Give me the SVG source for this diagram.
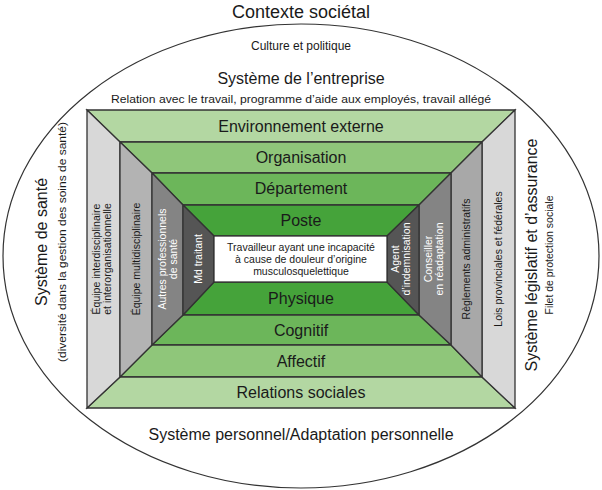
<svg xmlns="http://www.w3.org/2000/svg" width="602" height="490" viewBox="0 0 602 490">
<style>
text{font-family:"Liberation Sans",Arial,sans-serif;fill:#1a1a1a;text-anchor:middle}
.b{font-size:16px}.s{font-size:10.5px}.t{font-size:10.5px}.w{fill:#fff}
.e{stroke:#333;stroke-width:1.3}
</style>
<rect width="602" height="490" fill="#fff"/>
<g id="context">
<ellipse cx="301" cy="256" rx="298" ry="232" fill="none" stroke="#333" stroke-width="1.2"/>
<text x="301" y="18" style="font-size:18px">Contexte sociétal</text>
<text x="301" y="50" style="font-size:12px">Culture et politique</text>
<text x="301" y="84" class="b">Système de l’entreprise</text>
<text x="301" y="103" class="s" textLength="380" lengthAdjust="spacingAndGlyphs">Relation avec le travail, programme d’aide aux employés, travail allégé</text>
<text x="301" y="440" class="b">Système personnel/Adaptation personnelle</text>
<text transform="translate(47,242) rotate(-90)" class="b">Système de santé</text>
<text transform="translate(66,242) rotate(-90)" class="t" textLength="240" lengthAdjust="spacingAndGlyphs">(diversité dans la gestion des soins de santé)</text>
<text transform="translate(537,255) rotate(-90)" class="b">Système législatif et d’assurance</text>
<text transform="translate(553,255) rotate(-90)" class="t">Filet de protection sociale</text>
</g>
<g id="frame" class="e">
<polygon id="env" points="87,110 515,110 482,142 120,142" fill="#b3d7a2"/>
<polygon id="org" points="120,142 482,142 451,173 152,173" fill="#8fc67a"/>
<polygon id="dep" points="152,173 451,173 419,205 183,205" fill="#6cb65a"/>
<polygon id="poste" points="183,205 419,205 387,236 214,236" fill="#45a33a"/>
<polygon id="phys" points="214,282 387,282 419,315 183,315" fill="#45a33a"/>
<polygon id="cog" points="183,315 419,315 451,345 152,345" fill="#6cb65a"/>
<polygon id="aff" points="152,345 451,345 482,377 120,377" fill="#8fc67a"/>
<polygon id="rel" points="120,377 482,377 515,408 87,408" fill="#b3d7a2"/>
<polygon id="l1" points="87,110 120,142 120,377 87,408" fill="#d8d8d8"/>
<polygon id="l2" points="120,142 152,173 152,345 120,377" fill="#b3b3b3"/>
<polygon id="l3" points="152,173 183,205 183,315 152,345" fill="#848484"/>
<polygon id="l4" points="183,205 214,236 214,282 183,315" fill="#555"/>
<polygon id="r1" points="515,110 482,142 482,377 515,408" fill="#d8d8d8"/>
<polygon id="r2" points="482,142 451,173 451,345 482,377" fill="#a8a8a8"/>
<polygon id="r3" points="451,173 419,205 419,315 451,345" fill="#848484"/>
<polygon id="r4" points="419,205 387,236 387,282 419,315" fill="#555"/>
<rect id="center" x="214" y="236" width="173" height="46" fill="#fff"/>
</g>
<g id="labels">
<text x="301" y="132" class="b">Environnement externe</text>
<text x="301" y="163" class="b">Organisation</text>
<text x="301" y="194" class="b">Département</text>
<text x="301" y="226" class="b">Poste</text>
<text x="301" y="304" class="b">Physique</text>
<text x="301" y="336" class="b">Cognitif</text>
<text x="301" y="367" class="b">Affectif</text>
<text x="301" y="398" class="b">Relations sociales</text>
<text x="301" y="251" class="t">Travailleur ayant une incapacité</text>
<text x="301" y="263" class="t">à cause de douleur d’origine</text>
<text x="301" y="275" class="t">musculosquelettique</text>
<text transform="translate(100,259) rotate(-90)" class="t">Équipe interdisciplinaire</text>
<text transform="translate(111,259) rotate(-90)" class="t">et interorganisationnelle</text>
<text transform="translate(140,259) rotate(-90)" class="t">Équipe multidisciplinaire</text>
<text transform="translate(166,259) rotate(-90)" class="t w">Autres professionnels</text>
<text transform="translate(177,259) rotate(-90)" class="t w">de santé</text>
<text transform="translate(202,259) rotate(-90)" class="t w">Md traitant</text>
<text transform="translate(399,259) rotate(-90)" class="t w">Agent</text>
<text transform="translate(410,259) rotate(-90)" class="t w">d’indemnisation</text>
<text transform="translate(432,259) rotate(-90)" class="t w">Conseiller</text>
<text transform="translate(443,259) rotate(-90)" class="t w">en réadaptation</text>
<text transform="translate(470,259) rotate(-90)" class="t">Règlements administratifs</text>
<text transform="translate(502,259) rotate(-90)" class="t">Lois provinciales et fédérales</text>
</g>
</svg>
